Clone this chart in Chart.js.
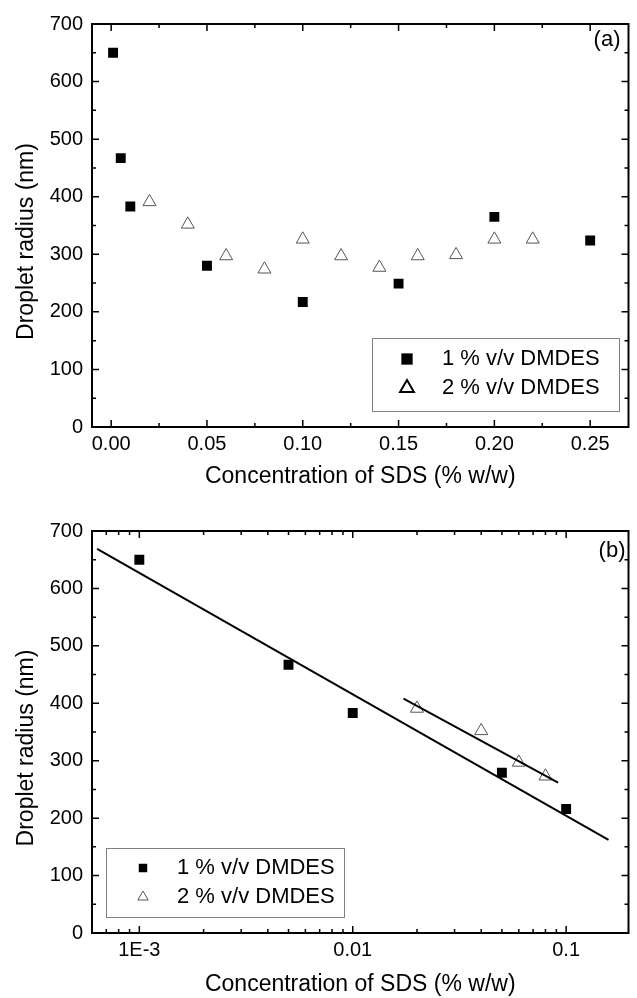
<!DOCTYPE html>
<html>
<head>
<meta charset="utf-8">
<script src="https://cdn.jsdelivr.net/npm/chart.js@4.4.1/dist/chart.umd.min.js"></script>
<style>
  html, body { margin: 0; padding: 0; background: #fff; }
  #wrap { position: relative; width: 637px; height: 998px; }
  canvas { position: absolute; left: 0; }
  #chartA { top: 0; }
  #chartB { top: 490px; }
</style>
</head>
<body>
<div id="wrap">
  <canvas id="chartA" width="637" height="490"></canvas>
  <canvas id="chartB" width="637" height="508"></canvas>
</div>
<script>
/* ---------------- DATA ---------------- */

// panel (a): all points
const sds1 = [0.001, 0.005, 0.01, 0.05, 0.10, 0.15, 0.20, 0.25];
const radius1 = [650, 467, 383, 280, 217, 249, 365, 324];
const sds2 = [0.02, 0.04, 0.06, 0.08, 0.10, 0.12, 0.14, 0.16, 0.18, 0.20, 0.22];
const radius2 = [391, 352, 297, 274, 326, 297, 277, 297, 299, 326, 326];

// panel (b): log plot of the low concentrations
const sdsB1 = [0.001, 0.005, 0.01, 0.05, 0.10];
const radiusB1 = [650, 467, 383, 279, 216];
const sdsB2 = [0.02, 0.04, 0.06, 0.08];
const radiusB2 = [391, 352, 297, 273];

// straight fits on the log axis (end points)
const fit1X = [0.000634, 0.158];
const fit1Y = [669, 162];
const fit2X = [0.0173, 0.0917];
const fit2Y = [408, 262];

// ticks
const xTicksA = [0, 0.05, 0.10, 0.15, 0.20, 0.25];
const xLabelsA = ["0.00", "0.05", "0.10", "0.15", "0.20", "0.25"];
const xTicksB = [0.001, 0.01, 0.1];
const xLabelsB = ["1E-3", "0.01", "0.1"];
const yTicks = [0, 100, 200, 300, 400, 500, 600, 700];

const seriesNames = ["1 % v/v DMDES", "2 % v/v DMDES"];
const xTitle = "Concentration of SDS (% w/w)";
const yTitle = "Droplet radius (nm)";

/* ---------------- HELPERS ---------------- */

const FONT = '"Liberation Sans", Arial, sans-serif';

function toPoints(xs, ys) {
    return xs.map((x, i) => ({ x: x, y: ys[i] }));
}

// majors plus one minor half way between each pair
function linearTicks(majors, min, max) {
    const step = majors[1] - majors[0];
    const out = [];
    majors.forEach(v => {
        out.push({ value: v, major: true });
        const m = v + step / 2;
        if (m < max) out.push({ value: m, major: false });
    });
    return out.filter(t => t.value >= min && t.value <= max);
}

// decades plus 2..9 minors
function logTicks(majors, min, max) {
    const out = [];
    const decades = [majors[0] / 10].concat(majors);
    decades.forEach(d => {
        if (majors.includes(d)) out.push({ value: d, major: true });
        for (let k = 2; k <= 9; k++) {
            out.push({ value: d * k, major: false });
        }
    });
    return out.filter(t => t.value > min && t.value < max);
}

function labelFor(ticks, labels) {
    return function (value) {
        const i = ticks.findIndex(t => Math.abs(t - value) < 1e-9);
        return i >= 0 ? labels[i] : "";
    };
}

/* ---------------- PLUGINS ---------------- */

// box + inward ticks on all four sides
const framePlugin = {
    id: "frame",
    afterDraw(chart) {
        const ctx = chart.ctx;
        const { left, right, top, bottom } = chart.chartArea;
        const sx = chart.scales.x;
        const sy = chart.scales.y;

        ctx.save();
        ctx.strokeStyle = "#000";
        ctx.lineWidth = 1.5;
        ctx.beginPath();
        sx.ticks.forEach(t => {
            const px = sx.getPixelForValue(t.value);
            const len = t.major ? 7 : 4;
            ctx.moveTo(px, bottom);
            ctx.lineTo(px, bottom - len);
            ctx.moveTo(px, top);
            ctx.lineTo(px, top + len);
        });
        sy.ticks.forEach(t => {
            const py = sy.getPixelForValue(t.value);
            const len = t.major ? 7 : 4;
            ctx.moveTo(left, py);
            ctx.lineTo(left + len, py);
            ctx.moveTo(right, py);
            ctx.lineTo(right - len, py);
        });
        ctx.stroke();

        ctx.lineWidth = 2;
        ctx.strokeRect(left, top, right - left, bottom - top);
        ctx.restore();
    }
};

// rotated y title, panel letter and boxed legend
const decorPlugin = {
    id: "decor",
    afterDraw(chart, args, opts) {
        const ctx = chart.ctx;
        const { left, right, top, bottom } = chart.chartArea;

        ctx.save();
        ctx.fillStyle = "#000";

        // y title
        ctx.font = "23px " + FONT;
        ctx.textAlign = "center";
        ctx.textBaseline = "alphabetic";
        ctx.translate(33, (top + bottom) / 2 + 16);
        ctx.rotate(-Math.PI / 2);
        ctx.fillText(yTitle, 0, 0);
        ctx.setTransform(1, 0, 0, 1, 0, 0);

        // panel letter
        ctx.font = "22px " + FONT;
        ctx.textAlign = "right";
        ctx.textBaseline = "middle";
        ctx.fillText(opts.letter, right - opts.letterDx, top + opts.letterDy);

        // legend box
        const b = opts.box;
        ctx.strokeStyle = "#808080";
        ctx.lineWidth = 1;
        ctx.strokeRect(b.x + 0.5, b.y + 0.5, b.w, b.h);

        ctx.font = "22px " + FONT;
        ctx.textAlign = "left";
        chart.data.datasets.forEach((ds, i) => {
            if (!ds.inLegend) return;
            const rowY = b.y + opts.rowY[i];
            ctx.fillStyle = ds.backgroundColor;
            ctx.strokeStyle = opts.legendStroke[i];
            ctx.lineWidth = opts.legendBorder[i];
            Chart.helpers.drawPoint(ctx, {
                pointStyle: ds.pointStyle,
                radius: opts.legendRadius[i],
                borderWidth: opts.legendBorder[i],
                rotation: 0
            }, b.x + opts.markerX, rowY);
            ctx.fillStyle = "#000";
            ctx.fillText(ds.label, b.x + opts.textX, rowY);
        });
        ctx.restore();
    }
};

/* ---------------- COMMON OPTIONS ---------------- */

function yScale() {
    return {
        type: "linear",
        min: 0,
        max: 700,
        afterBuildTicks: s => { s.ticks = linearTicks(yTicks, 0, 700); },
        afterFit: s => { s.width = 92; },
        grid: { display: false, drawTicks: false },
        border: { display: false },
        ticks: {
            autoSkip: false,
            padding: 9,
            color: "#000",
            font: { family: FONT, size: 20 },
            callback: labelFor(yTicks, yTicks.map(String))
        },
        title: { display: false }
    };
}

function xTitleOpts() {
    return {
        display: true,
        text: xTitle,
        color: "#000",
        font: { family: FONT, size: 23 },
        padding: { top: 0, bottom: 0 }
    };
}

function squareSet(xs, ys) {
    return {
        label: seriesNames[0],
        data: toPoints(xs, ys),
        pointStyle: "rect",
        pointRadius: 7,
        backgroundColor: "#000",
        borderColor: "#000",
        borderWidth: 0,
        inLegend: true
    };
}

function triangleSet(xs, ys) {
    return {
        label: seriesNames[1],
        data: toPoints(xs, ys),
        pointStyle: "triangle",
        pointRadius: 7.5,
        backgroundColor: "#fff",
        borderColor: "#555",
        borderWidth: 1,
        inLegend: true
    };
}

function fitSet(xs, ys) {
    return {
        type: "line",
        label: "fit",
        data: toPoints(xs, ys),
        showLine: true,
        borderColor: "#000",
        borderWidth: 2,
        pointRadius: 0,
        fill: false,
        inLegend: false
    };
}

/* ---------------- PANEL (a) ---------------- */

new Chart(document.getElementById("chartA"), {
    type: "scatter",
    data: {
        datasets: [squareSet(sds1, radius1), triangleSet(sds2, radius2)]
    },
    options: {
        responsive: false,
        animation: false,
        layout: { padding: { top: 24, right: 2, left: 0, bottom: 0 } },
        plugins: {
            legend: { display: false },
            tooltip: { enabled: false },
            decor: {
                letter: "(a)",
                letterDx: 8,
                letterDy: 16,
                box: { x: 372, y: 338, w: 247, h: 73 },
                rowY: [21, 50],
                markerX: 35,
                textX: 70,
                legendRadius: [8, 8],
                legendBorder: [0, 2],
                legendStroke: ["#000", "#000"]
            }
        },
        scales: {
            x: {
                type: "linear",
                min: -0.01,
                max: 0.27,
                afterBuildTicks: s => { s.ticks = linearTicks(xTicksA, -0.01, 0.27); },
                afterFit: s => { s.height = 63; },
                grid: { display: false, drawTicks: false },
                border: { display: false },
                ticks: {
                    autoSkip: false,
                    maxRotation: 0,
                    padding: 5,
                    color: "#000",
                    font: { family: FONT, size: 20 },
                    callback: labelFor(xTicksA, xLabelsA)
                },
                title: xTitleOpts()
            },
            y: yScale()
        }
    },
    plugins: [framePlugin, decorPlugin]
});

/* ---------------- PANEL (b) ---------------- */

new Chart(document.getElementById("chartB"), {
    type: "scatter",
    data: {
        datasets: [
            fitSet(fit1X, fit1Y),
            fitSet(fit2X, fit2Y),
            squareSet(sdsB1, radiusB1),
            triangleSet(sdsB2, radiusB2)
        ]
    },
    options: {
        responsive: false,
        animation: false,
        layout: { padding: { top: 41, right: 2, left: 0, bottom: 0 } },
        plugins: {
            legend: { display: false },
            tooltip: { enabled: false },
            decor: {
                letter: "(b)",
                letterDx: 3,
                letterDy: 20,
                box: { x: 106, y: 358, w: 238, h: 69 },
                rowY: [0, 0, 20, 49],
                markerX: 37,
                textX: 71,
                legendRadius: [0, 0, 6, 6],
                legendBorder: [0, 0, 0, 1],
                legendStroke: ["#000", "#000", "#000", "#555"]
            }
        },
        scales: {
            x: {
                type: "logarithmic",
                min: 0.000603,
                max: 0.196,
                afterBuildTicks: s => { s.ticks = logTicks(xTicksB, 0.000603, 0.196); },
                afterFit: s => { s.height = 65; },
                grid: { display: false, drawTicks: false },
                border: { display: false },
                ticks: {
                    autoSkip: false,
                    maxRotation: 0,
                    padding: 5,
                    color: "#000",
                    font: { family: FONT, size: 20 },
                    callback: labelFor(xTicksB, xLabelsB)
                },
                title: xTitleOpts()
            },
            y: yScale()
        }
    },
    plugins: [framePlugin, decorPlugin]
});
</script>
</body>
</html>
